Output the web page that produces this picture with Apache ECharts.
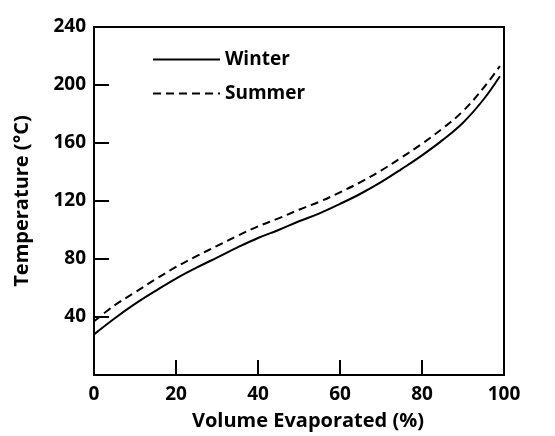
<!DOCTYPE html>
<html>
<head>
<meta charset="utf-8">
<script src="https://cdn.jsdelivr.net/npm/echarts@6/dist/echarts.min.js"></script>
<style>
  html, body { margin: 0; padding: 0; background: #fff; }
  #chart { width: 555px; height: 436px; }
</style>
</head>
<body>
<div id="chart"></div>
<script>
// volume evaporated (%)
var volume = [0, 5, 10, 15, 20, 25, 30, 35, 40, 45, 50, 55, 60, 65, 70, 75, 80, 85, 90, 95, 99];
// temperature (°C)
var winter = [28, 39, 49, 58, 66.5, 74, 81, 88, 94.5, 100, 106, 111.5, 118, 125, 133, 142, 151.5, 162, 174, 190, 206];
var summer = [37, 48, 57, 66, 74.5, 82, 89, 96, 102.5, 108, 114, 119.5, 126, 133, 141, 150, 159.5, 170, 182, 198, 213];

function pairs(xs, ys) {
  return xs.map(function (x, i) { return [x, ys[i]]; });
}

var font = '"Open Sans", "DejaVu Sans", sans-serif';

var chart = echarts.init(document.getElementById('chart'));
chart.setOption({
  animation: false,
  backgroundColor: '#fff',
  grid: {
    left: 94, top: 27, right: 51, bottom: 60,
    show: true, borderColor: '#000', borderWidth: 2
  },
  legend: {
    orient: 'vertical',
    left: 147, top: 45,
    itemWidth: 67, itemHeight: 14, itemGap: 15,
    itemStyle: { opacity: 0 },
    textStyle: { fontFamily: font, fontWeight: 'bold', fontSize: 19, color: '#000' },
    data: ['Winter', 'Summer']
  },
  xAxis: {
    type: 'value', min: 0, max: 100, interval: 20,
    name: 'Volume Evaporated (%)', nameLocation: 'middle', nameGap: 36,
    nameTextStyle: { fontFamily: font, fontWeight: 'bold', fontSize: 20, color: '#000', padding: [0, 0, 0, 18] },
    axisLine: { lineStyle: { color: '#000', width: 2 } },
    axisTick: { inside: true, length: 15, lineStyle: { color: '#000', width: 2 } },
    axisLabel: { margin: 10, fontFamily: font, fontWeight: 'bold', fontSize: 19, color: '#000' },
    splitLine: { show: false }
  },
  yAxis: {
    type: 'value', min: 0, max: 240, interval: 40,
    name: 'Temperature (°C)', nameLocation: 'middle', nameGap: 62,
    nameTextStyle: { fontFamily: font, fontWeight: 'bold', fontSize: 20, color: '#000' },
    axisLine: { show: true, lineStyle: { color: '#000', width: 2 } },
    axisTick: { show: true, inside: true, length: 15, lineStyle: { color: '#000', width: 2 } },
    axisLabel: { showMinLabel: false, margin: 8, fontFamily: font, fontWeight: 'bold', fontSize: 19, color: '#000' },
    splitLine: { show: false }
  },
  series: [
    {
      name: 'Winter', type: 'line', smooth: 0.4, symbol: 'none',
      data: pairs(volume, winter),
      itemStyle: { color: '#000' },
      lineStyle: { color: '#000', width: 2, type: 'solid' }
    },
    {
      name: 'Summer', type: 'line', smooth: 0.4, symbol: 'none',
      data: pairs(volume, summer),
      itemStyle: { color: '#000' },
      lineStyle: { color: '#000', width: 2, type: [8, 5] }
    }
  ]
});
</script>
</body>
</html>
